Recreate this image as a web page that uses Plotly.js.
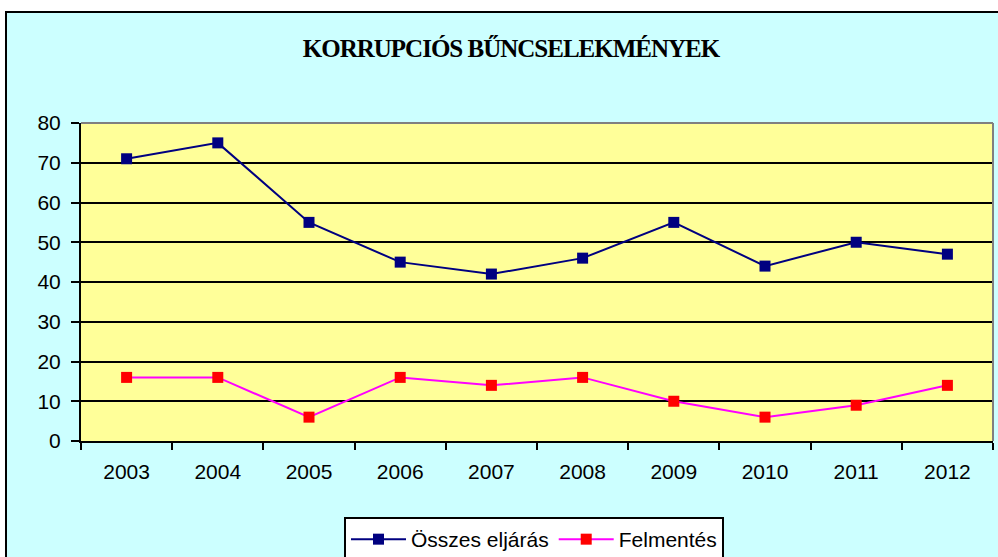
<!DOCTYPE html>
<html>
<head>
<meta charset="utf-8">
<script src="https://cdn.plot.ly/plotly-3.0.1.min.js"></script>
<style>
html,body{margin:0;padding:0;background:#ffffff;overflow:hidden;width:998px;height:557px;}
#frame{position:absolute;left:5px;top:11px;width:1000px;height:550px;border-left:2px solid #000;border-top:2px solid #000;background:#CCFFFF;}
#chart{width:1000px;height:550px;}
</style>
</head>
<body>
<div id="frame"><div id="chart"></div></div>
<script>
var years = ['2003','2004','2005','2006','2007','2008','2009','2010','2011','2012'];
var osszesEljaras = [71, 75, 55, 45, 42, 46, 55, 44, 50, 47];
var felmentes = [16, 16, 6, 16, 14, 16, 10, 6, 9, 14];
var yTicks = [0,10,20,30,40,50,60,70,80];

var traces = [
  {x: years, y: osszesEljaras, name: 'Összes eljárás', type: 'scatter', mode: 'lines+markers',
   line: {color: '#000080', width: 2}, marker: {symbol: 'square', size: 11, color: '#000080'}},
  {x: years, y: felmentes, name: 'Felmentés', type: 'scatter', mode: 'lines+markers',
   line: {color: '#FF00FF', width: 2}, marker: {symbol: 'square', size: 11, color: '#FF0000'}}
];

var layout = {
  width: 1000, height: 550,
  paper_bgcolor: '#CCFFFF', plot_bgcolor: '#FFFF99',
  margin: {l: 74, r: 14, t: 110, b: 122},
  font: {family: 'Liberation Sans, Arial, sans-serif', color: '#000', size: 21},
  title: {text: '<b><span style="letter-spacing:-1px">KORRUPCIÓS BŰNCSELEKMÉNYEK</span></b>', xref: 'container', yref: 'container',
          x: 0.504, y: 0.936, xanchor: 'center', yanchor: 'middle',
          font: {family: 'Liberation Serif, Times New Roman, serif', size: 25, color: '#000'}},
  xaxis: {type: 'category', range: [-0.5, 9.5], tickson: 'boundaries', ticks: 'outside', ticklen: 7, tickwidth: 2, tickcolor: '#000',
          showline: true, linecolor: '#000', linewidth: 2, showgrid: false, zeroline: false,
          ticklabelstandoff: 11, tickfont: {size: 21}},
  yaxis: {range: [0, 80], tickvals: yTicks, ticks: 'outside', ticklen: 8, tickwidth: 2, tickcolor: '#000',
          showline: true, linecolor: '#000', linewidth: 2, showgrid: true, gridcolor: '#000', gridwidth: 2,
          zeroline: false, ticklabelstandoff: 6, tickfont: {size: 21}},
  shapes: [
    {type: 'line', xref: 'paper', yref: 'paper', x0: 0, x1: 1, y0: 1, y1: 1, line: {color: '#808080', width: 2}, layer: 'above'},
    {type: 'line', xref: 'paper', yref: 'paper', x0: 1, x1: 1, y0: 0, y1: 1, line: {color: '#808080', width: 2}, layer: 'above'}
  ],
  showlegend: true,
  legend: {orientation: 'h', xref: 'container', yref: 'container', x: 0.527, y: 0.0836,
           xanchor: 'center', yanchor: 'top', bgcolor: '#ffffff', bordercolor: '#000', borderwidth: 2,
           itemwidth: 55, font: {size: 21}}
};

Plotly.newPlot('chart', traces, layout, {displayModeBar: false, staticPlot: true});
</script>
</body>
</html>
